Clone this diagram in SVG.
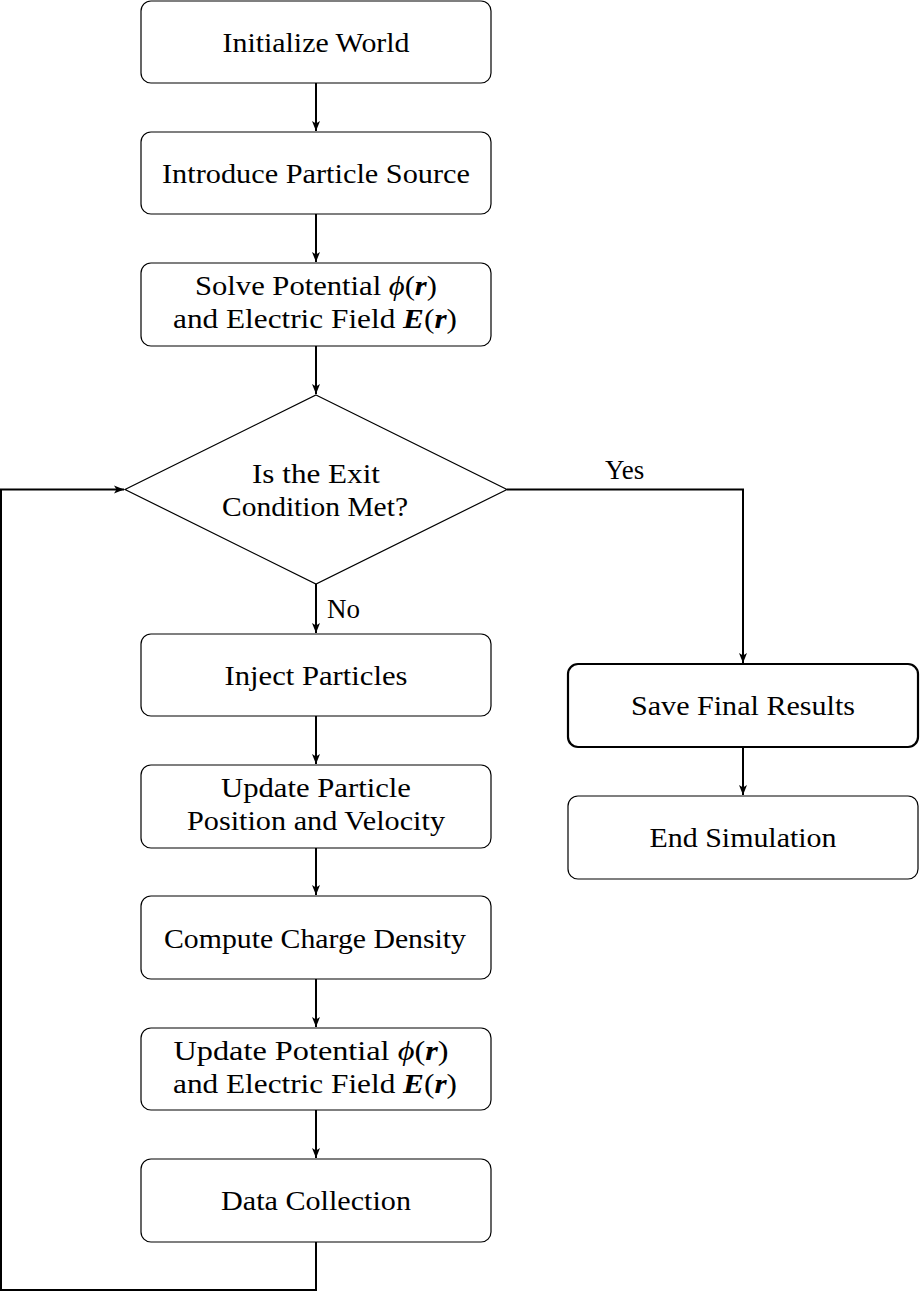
<svg xmlns="http://www.w3.org/2000/svg" width="921" height="1292" viewBox="0 0 921 1292">
<style>
.box{fill:#fff;stroke:#000;stroke-width:1.2}
.thick{stroke-width:2.2}
.t{font-family:"Liberation Serif","Times New Roman",serif;font-size:27px;fill:#000;text-anchor:middle}
.lbl{font-family:"Liberation Serif","Times New Roman",serif;font-size:27px;fill:#000}
.c{fill:none;stroke:#000;stroke-width:2}
.i{font-style:italic}
.bi{font-style:italic;font-weight:bold}
</style>
<defs>
<marker id="ah" markerUnits="userSpaceOnUse" markerWidth="12" markerHeight="10" refX="10" refY="5" orient="auto">
<path d="M0,1 L10,5 L0,9 L2.5,5 Z" fill="#000"/>
</marker>
</defs>
<rect width="921" height="1292" fill="#fff"/>
<g id="connectors">
<line class="c" x1="316" y1="83" x2="316" y2="131" marker-end="url(#ah)"/>
<line class="c" x1="316" y1="214" x2="316" y2="262" marker-end="url(#ah)"/>
<line class="c" x1="316" y1="346" x2="316" y2="394" marker-end="url(#ah)"/>
<line class="c" x1="316" y1="584" x2="316" y2="633" marker-end="url(#ah)"/>
<line class="c" x1="316" y1="716" x2="316" y2="764" marker-end="url(#ah)"/>
<line class="c" x1="316" y1="848" x2="316" y2="895" marker-end="url(#ah)"/>
<line class="c" x1="316" y1="979" x2="316" y2="1027" marker-end="url(#ah)"/>
<line class="c" x1="316" y1="1110" x2="316" y2="1158" marker-end="url(#ah)"/>
<polyline class="c" points="316,1242 316,1290 1,1290 1,489.5 124,489.5" marker-end="url(#ah)"/>
<polyline class="c" points="507,489.5 743,489.5 743,663" marker-end="url(#ah)"/>
<line class="c" x1="743" y1="747" x2="743" y2="795" marker-end="url(#ah)"/>
<text class="lbl" x="605" y="479">Yes</text>
<text class="lbl" x="327" y="618">No</text>
</g>
<g id="init">
<rect class="box" x="141" y="1" width="350" height="82" rx="10"/>
<text class="t" x="316" y="52" textLength="187" lengthAdjust="spacingAndGlyphs">Initialize World</text>
</g>
<g id="source">
<rect class="box" x="141" y="132" width="350" height="82" rx="10"/>
<text class="t" x="316" y="183" textLength="308" lengthAdjust="spacingAndGlyphs">Introduce Particle Source</text>
</g>
<g id="solve">
<rect class="box" x="141" y="263" width="350" height="83" rx="10"/>
<text class="t" x="316" y="295" textLength="242" lengthAdjust="spacingAndGlyphs">Solve Potential <tspan class="i">ϕ</tspan>(<tspan class="bi">r</tspan>)</text>
<text class="t" x="315" y="328" textLength="284" lengthAdjust="spacingAndGlyphs">and Electric Field <tspan class="bi">E</tspan>(<tspan class="bi">r</tspan>)</text>
</g>
<g id="decision">
<polygon points="316,395 507,489.5 316,584 125,489.5" fill="#fff" stroke="#000" stroke-width="1.2"/>
<text class="t" x="316" y="483" textLength="128" lengthAdjust="spacingAndGlyphs">Is the Exit</text>
<text class="t" x="315" y="516" textLength="186" lengthAdjust="spacingAndGlyphs">Condition Met?</text>
</g>
<g id="inject">
<rect class="box" x="141" y="634" width="350" height="82" rx="10"/>
<text class="t" x="316" y="685" textLength="183" lengthAdjust="spacingAndGlyphs">Inject Particles</text>
</g>
<g id="update">
<rect class="box" x="141" y="765" width="350" height="83" rx="10"/>
<text class="t" x="316" y="797" textLength="190" lengthAdjust="spacingAndGlyphs">Update Particle</text>
<text class="t" x="316" y="830" textLength="258" lengthAdjust="spacingAndGlyphs">Position and Velocity</text>
</g>
<g id="charge">
<rect class="box" x="141" y="896" width="350" height="83" rx="10"/>
<text class="t" x="315" y="948" textLength="302" lengthAdjust="spacingAndGlyphs">Compute Charge Density</text>
</g>
<g id="updpot">
<rect class="box" x="141" y="1028" width="350" height="82" rx="10"/>
<text class="t" x="311" y="1060" textLength="275" lengthAdjust="spacingAndGlyphs">Update Potential <tspan class="i">ϕ</tspan>(<tspan class="bi">r</tspan>)</text>
<text class="t" x="315" y="1093" textLength="284" lengthAdjust="spacingAndGlyphs">and Electric Field <tspan class="bi">E</tspan>(<tspan class="bi">r</tspan>)</text>
</g>
<g id="data">
<rect class="box" x="141" y="1159" width="350" height="83" rx="10"/>
<text class="t" x="316" y="1210" textLength="190" lengthAdjust="spacingAndGlyphs">Data Collection</text>
</g>
<g id="save">
<rect class="box thick" x="568" y="664" width="350" height="83" rx="10"/>
<text class="t" x="743" y="715" textLength="224" lengthAdjust="spacingAndGlyphs">Save Final Results</text>
</g>
<g id="end">
<rect class="box" x="568" y="796" width="350" height="83" rx="10"/>
<text class="t" x="743" y="847" textLength="187" lengthAdjust="spacingAndGlyphs">End Simulation</text>
</g>
</svg>
